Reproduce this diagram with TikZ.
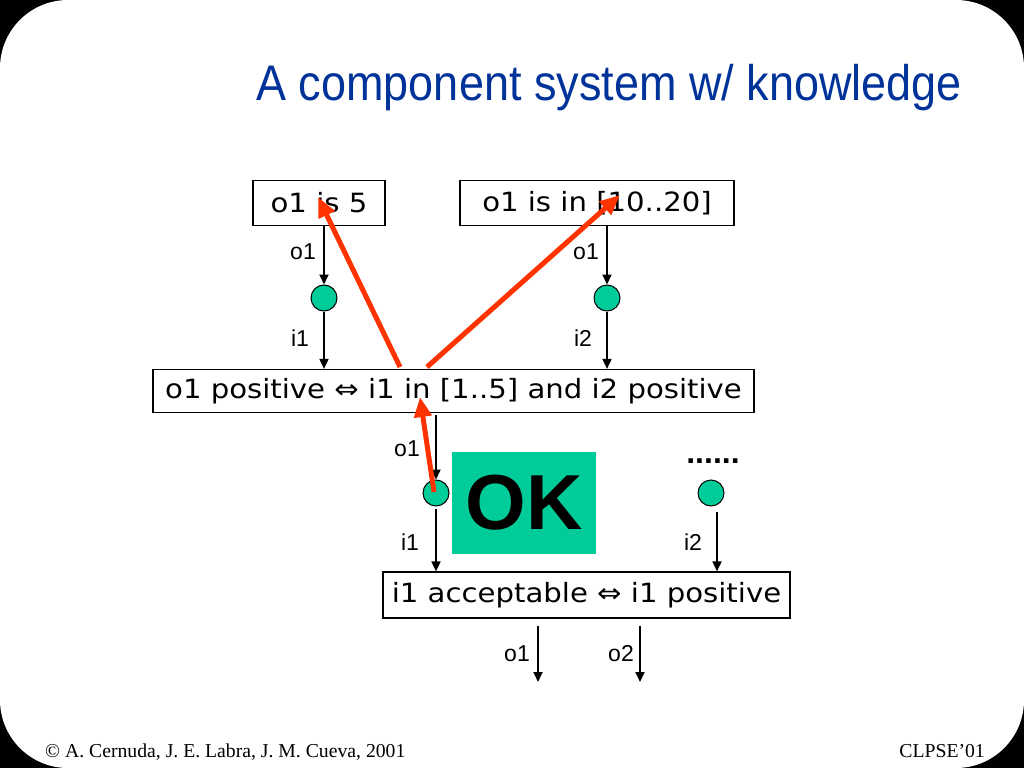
\documentclass[tikz,border=0pt]{standalone}
\usepackage{fontspec}
\setmainfont{Liberation Sans}
\newfontfamily\boxfont[FakeStretch=1.1]{DejaVu Sans}
\newfontfamily\titlefont[FakeStretch=0.9]{Liberation Sans}
\newfontfamily\footfont{Liberation Serif}
\usetikzlibrary{arrows.meta, positioning, calc}

\definecolor{slideblue}{RGB}{0,51,153}
\definecolor{portgreen}{RGB}{0,204,153}
\definecolor{whyred}{RGB}{255,51,0}

\begin{document}
\begin{tikzpicture}[
  x=1pt, y=-1pt,
  box/.style   = {draw, line width=1.2pt, rectangle, inner sep=0pt,
                  font=\boxfont\fontsize{26.5}{30}\selectfont},
  port/.style  = {draw, circle, fill=portgreen, line width=1pt,
                  inner sep=0pt, minimum size=26pt},
  flow/.style  = {-{Triangle[length=10pt, width=9pt]}, line width=1.8pt},
  why/.style   = {-{Triangle[length=20pt, width=17pt]}, line width=5pt,
                  whyred},
  lbl/.style   = {font=\fontsize{23}{26}\selectfont, inner sep=0pt},
]
  \useasboundingbox (0,0) rectangle (1024,768);
  % Slide background
  \fill[black] (0,0) rectangle (1024,768);
  \fill[white, rounded corners=68pt] (0,0) rectangle (1024,768);

  % Title
  \node[anchor=base east, inner sep=0pt, text=slideblue,
        font=\titlefont\fontsize{50}{56}\selectfont] (title) at (962,100)
        {A component system w/ knowledge};

  % Upper component
  \node[box, minimum width=132pt, minimum height=45pt] (is5)  at (319,203) {o1 is 5};
  \node[box, minimum width=274pt, minimum height=45pt] (in10) at (597,203) {o1 is in [10..20]};
  \node[port] (p1) at (324,298) {};
  \node[port] (p2) at (607,298) {};
  \node[box, minimum width=601pt, minimum height=43pt] (rule1) at (453.5,391)
        {o1 positive ⇔ i1 in [1..5] and i2 positive};

  % Lower component
  \node[port] (p3) at (436,493) {};
  \node[port] (p4) at (711,493) {};
  \node[box, minimum width=407pt, minimum height=46pt] (rule2) at (586.5,595)
        {i1 acceptable ⇔ i1 positive};
  \node[fill=portgreen, minimum width=144pt, minimum height=102pt, inner sep=0pt,
        font=\bfseries\fontsize{78}{80}\selectfont] (ok) at (524,503) {OK};
  \node[font=\bfseries\fontsize{32}{34}\selectfont, inner sep=0pt] (more) at (713,461) {......};

  % Outputs
  \coordinate (out1) at (538,682);
  \coordinate (out2) at (640,682);
  \coordinate (in4)  at (717,512);

  % Flows
  \draw[flow] (p1 |- is5.south)  -- (p1.north);
  \draw[flow] (p1.south)         -- (p1 |- rule1.north);
  \draw[flow] (p2 |- in10.south) -- (p2.north);
  \draw[flow] (p2.south)         -- (p2 |- rule1.north);
  \draw[flow] ($(p3 |- rule1.south)+(0,2)$) -- (p3.north);
  \draw[flow] ($(p3.south)+(0,2)$) -- (p3 |- rule2.north);
  \draw[flow] (in4) -- (in4 |- rule2.north);
  \draw[flow, shorten <=7pt] (out1 |- rule2.south) -- (out1);
  \draw[flow, shorten <=7pt] (out2 |- rule2.south) -- (out2);

  % Labels
  \node[lbl] at (303,252) {o1};
  \node[lbl] at (300,338) {i1};
  \node[lbl] at (586,252) {o1};
  \node[lbl] at (583,338) {i2};
  \node[lbl] at (407,449) {o1};
  \node[lbl] at (410,542) {i1};
  \node[lbl] at (693,542) {i2};
  \node[lbl] at (517,654) {o1};
  \node[lbl] at (621,654) {o2};

  % Explanation arrows
  \coordinate (w1) at (400,367);
  \coordinate (w2) at (427,367);
  \coordinate (w3) at (434,492);
  \draw[why] (w1) -- (318,197);
  \draw[why] (w2) -- (620,195);
  \draw[why] (w3) -- (420,397);

  % Footer
  \node[anchor=base west, inner sep=0pt, font=\footfont\fontsize{19.7}{22}\selectfont]
        (credit) at (45,757) {© A. Cernuda, J. E. Labra, J. M. Cueva, 2001};
  \node[anchor=base east, inner sep=0pt, font=\footfont\fontsize{19.7}{22}\selectfont]
        (conf) at (985,757) {CLPSE’01};
\end{tikzpicture}
\end{document}
